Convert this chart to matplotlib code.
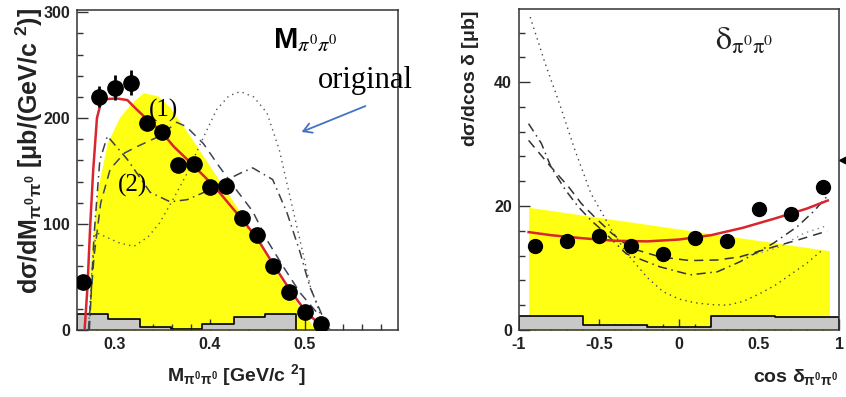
import matplotlib
matplotlib.use("Agg")
import matplotlib.pyplot as plt
from matplotlib.ticker import MultipleLocator

plt.rcParams['font.family'] = ['Liberation Sans', 'DejaVu Sans']
plt.rcParams['mathtext.fontset'] = 'custom'
plt.rcParams['mathtext.rm'] = 'Liberation Sans:bold'
plt.rcParams['mathtext.it'] = 'Liberation Sans:bold'
plt.rcParams['mathtext.bf'] = 'Liberation Sans:bold'
plt.rcParams['mathtext.sf'] = 'Liberation Sans:bold'

# ---- invariant mass spectrum M(pi0 pi0) ----
m_pts = [0.2667, 0.2833, 0.3, 0.3167, 0.3333, 0.35, 0.3667, 0.3833,
         0.4, 0.4167, 0.4333, 0.45, 0.4667, 0.4833, 0.5, 0.5167]
m_xsec = [45.7, 220, 228.7, 233.4, 195, 187, 155.5, 156.5,
          134.7, 135.6, 105.7, 90, 60.6, 35.6, 17.4, 5.7]
m_err = [4, 10, 12, 12, 6, 6, 5, 5, 5, 5, 4, 4, 3, 3, 2, 2]

# fit (red)
m_fit_x = [0.268, 0.271, 0.274, 0.277, 0.281, 0.285, 0.292, 0.302, 0.313, 0.323,
           0.336, 0.347, 0.362, 0.376, 0.394, 0.407, 0.421, 0.436, 0.45, 0.466,
           0.484, 0.502, 0.515, 0.525]
m_fit_y = [0, 40, 100, 150, 200, 214, 218, 218.5, 217, 208,
           197, 189, 173, 161, 145, 133, 118, 102, 86, 63,
           38, 16, 6, 0]

# phase space band (yellow)
m_band_x = [0.272, 0.274, 0.281, 0.292, 0.305, 0.318, 0.33, 0.345, 0.358, 0.379,
            0.393, 0.407, 0.421, 0.435, 0.449, 0.466, 0.484, 0.498, 0.508, 0.512]
m_band_y = [0, 66, 130, 177, 201, 215, 224, 221, 210, 183,
            164, 145, 126, 107, 86, 60, 35, 17, 4, 0]

# model curve (1), dashed
m_c1_x = [0.272, 0.278, 0.285, 0.295, 0.31, 0.323, 0.347, 0.365, 0.375, 0.393,
          0.41, 0.428, 0.445, 0.46, 0.477, 0.495, 0.513, 0.523, 0.527]
m_c1_y = [0, 70, 120, 152, 167, 173, 183, 196, 192, 176,
          154, 132, 112, 85, 60, 35, 16, 3, 0]

# model curve (2), dash-dot
m_c2_x = [0.273, 0.278, 0.284, 0.292, 0.313, 0.337, 0.358, 0.376, 0.394, 0.414,
          0.432, 0.445, 0.466, 0.481, 0.495, 0.505, 0.519, 0.525]
m_c2_y = [0, 90, 160, 183, 161, 130, 121, 123, 130, 140,
          148, 153, 142, 111, 73, 41, 12, 0]

# dotted curve
m_c3_x = [0.272, 0.276, 0.28, 0.29, 0.305, 0.32, 0.335, 0.347, 0.361, 0.376,
          0.389, 0.407, 0.42, 0.432, 0.446, 0.46, 0.473, 0.485, 0.496, 0.506,
          0.516, 0.526]
m_c3_y = [0, 60, 92, 88, 82, 79, 88, 101, 123, 148,
          174, 208, 221, 225, 220, 205, 170, 123, 80, 40,
          15, 0]

# systematic errors (grey histogram)
m_sys_edges = [0.26, 0.293, 0.326, 0.359, 0.392, 0.425, 0.458, 0.491]
m_sys = [14.8, 10, 2.5, 1, 5.4, 12, 14.8]

# ---- opening angle distribution cos(delta) ----
d_pts = [-0.9, -0.7, -0.5, -0.3, -0.1, 0.1, 0.3, 0.5, 0.7, 0.9]
d_xsec = [13.6, 14.4, 15.1, 13.6, 12.3, 14.9, 14.4, 19.5, 18.7, 23.0]

d_fit_x = [-0.94, -0.8, -0.6, -0.4, -0.2, 0, 0.2, 0.4, 0.6, 0.8, 0.93]
d_fit_y = [15.8, 15.3, 14.8, 14.4, 14.3, 14.6, 15.3, 16.5, 18.0, 19.6, 20.9]

d_band_x = [-0.94, 0.94]
d_band_y = [19.8, 12.8]

d_dot_x = [-0.93, -0.84, -0.74, -0.65, -0.55, -0.42, -0.33, -0.2, -0.1, 0,
           0.1, 0.2, 0.3, 0.4, 0.5, 0.6, 0.7, 0.8, 0.9]
d_dot_y = [50.5, 43.3, 36, 29, 22, 16.1, 12.5, 8.5, 6.2, 5,
           4.4, 4.1, 4.0, 4.6, 5.8, 7.2, 9, 10.8, 13]

d_dd_x = [-0.94, -0.86, -0.8, -0.71, -0.63, -0.55, -0.46, -0.33, -0.12, 0.07,
          0.24, 0.38, 0.59, 0.74, 0.84, 0.93]
d_dd_y = [33.3, 30.1, 26.3, 22.6, 19.9, 17.7, 15.6, 12.3, 10.2, 8.9,
          9.4, 11.0, 14.0, 16.7, 19.1, 21.7]

d_dash_x = [-0.94, -0.82, -0.69, -0.61, -0.53, -0.42, -0.3, -0.12, 0.07, 0.24,
            0.38, 0.59, 0.74, 0.93]
d_dash_y = [30.6, 26.9, 23.1, 20.4, 18.3, 15.6, 13.2, 11.8, 11.2, 11.3,
            11.8, 13.4, 14.5, 16.0]

d_light_x = [0.38, 0.5, 0.63, 0.78, 0.93]
d_light_y = [11.8, 12.4, 13.4, 15.6, 16.9]

d_sys_edges = [-1, -0.6, -0.2, 0.2, 0.6, 1]
d_sys = [2.3, 0.8, 0.43, 2.26, 2.05]

W, H = 846, 397
fig = plt.figure(figsize=(W / 100, H / 100), dpi=100)
ax1 = fig.add_axes([77 / W, 1 - 330 / H, 321 / W, 320 / H])
ax2 = fig.add_axes([519 / W, 1 - 330 / H, 320 / W, 321 / H])

red = '#d8262e'
yellow = '#ffff14'
grey_fill = '#c8c8c8'


def frame(ax):
    for s in ax.spines.values():
        s.set_color('#333333')
        s.set_linewidth(1.1)
    ax.tick_params(which='both', direction='in', top=False, right=False,
                   colors='#333333', labelcolor='#222222', labelsize=11.5,
                   width=1.0)
    ax.tick_params(which='major', length=8, pad=5)
    ax.tick_params(which='minor', length=4)
    for lab in ax.get_xticklabels() + ax.get_yticklabels():
        lab.set_fontweight('bold')


def syst_hist(ax, edges, vals):
    xs, ys = [], []
    for i, v in enumerate(vals):
        xs += [edges[i], edges[i + 1]]
        ys += [v, v]
    ax.fill_between(xs, 0, ys, color=grey_fill, zorder=2, linewidth=0)
    ax.plot([xs[0]] + xs + [xs[-1]], [0] + ys + [0], color='black', lw=1.2, zorder=2.5)


# left panel
ax = ax1
ax.fill_between(m_band_x, 0, m_band_y, color=yellow, linewidth=0, zorder=1)
syst_hist(ax, m_sys_edges, m_sys)
ax.plot(m_c3_x, m_c3_y, color='#555555', lw=1.0, ls=(0, (1, 3)), zorder=3)
ax.plot(m_c2_x, m_c2_y, color='#3a3f48', lw=1.1, ls=(0, (6, 3, 1, 3)), zorder=3)
ax.plot(m_c1_x, m_c1_y, color='#3c4656', lw=1.1, ls=(0, (6, 4)), zorder=3)
ax.plot(m_fit_x, m_fit_y, color=red, lw=1.8, zorder=4)
ax.vlines(m_pts, [y - e for y, e in zip(m_xsec, m_err)],
          [y + e for y, e in zip(m_xsec, m_err)], color='black', lw=2, zorder=5)
ax.plot(m_pts, m_xsec, 'o', color='black', ms=11, zorder=6)
ax.set_xlim(0.26, 0.598)
ax.set_ylim(0, 302)
ax.set_xticks([0.3, 0.4, 0.5])
ax.set_xticklabels(['0.3', '0.4', '0.5'])
ax.set_yticks([0, 100, 200, 300])
ax.set_yticklabels(['0', '100', '200', '300'])
ax.xaxis.set_minor_locator(MultipleLocator(0.02))
ax.yaxis.set_minor_locator(MultipleLocator(20))
frame(ax)

# right panel
ax = ax2
ax.fill_between(d_band_x, 0, d_band_y, color=yellow, linewidth=0, zorder=1)
syst_hist(ax, d_sys_edges, d_sys)
ax.plot(d_dot_x, d_dot_y, color='#444444', lw=1.0, ls=(0, (1, 3)), zorder=3)
ax.plot(d_light_x, d_light_y, color='#888888', lw=1.0, ls=(0, (1, 3)), zorder=3)
ax.plot(d_dd_x, d_dd_y, color='#333333', lw=1.1, ls=(0, (6, 3, 1, 3)), zorder=3)
ax.plot(d_dash_x, d_dash_y, color='#333333', lw=1.1, ls=(0, (6, 4)), zorder=3)
ax.plot(d_fit_x, d_fit_y, color=red, lw=1.8, zorder=4)
ax.plot(d_pts, d_xsec, 'o', color='black', ms=10, zorder=6)
ax.set_xlim(-1, 1)
ax.set_ylim(0, 51.8)
ax.set_xticks([-1, -0.5, 0, 0.5, 1])
ax.set_xticklabels(['-1', '-0.5', '0', '0.5', '1'])
ax.set_yticks([0, 20, 40])
ax.set_yticklabels(['0', '20', '40'])
ax.xaxis.set_minor_locator(MultipleLocator(0.1))
ax.yaxis.set_minor_locator(MultipleLocator(4))
frame(ax)
# tip of an arrow coming in from the right edge
ax.plot([1.012, 1.05], [0.531, 0.531], color='black', lw=1.2,
        transform=ax.transAxes, clip_on=False)
ax.plot([1.012], [0.531], marker='<', color='black', ms=6,
        transform=ax.transAxes, clip_on=False)


def ftext(x, y, s, **kw):
    fig.text(x / W, 1 - y / H, s, **kw)


# axis titles
ftext(29, 8, r'd$\sigma$/dM$_{\pi^0\pi^0}$ [$\mu$b/(GeV/c $^{2}$)]', rotation=90,
      ha='center', va='top', fontsize=18, fontweight='bold', color='#222222')
ftext(236, 375, r'M$_{\pi^0\pi^0}$ [GeV/c $^{2}$]', ha='center', va='center',
      fontsize=14, fontweight='bold', color='#222222')
ftext(470, 10, r'd$\sigma$/dcos $\delta$ [$\mu$b]', rotation=90,
      ha='center', va='top', fontsize=14, fontweight='bold', color='#222222')
ftext(838, 377, r'cos $\delta_{\pi^0\pi^0}$', ha='right', va='center',
      fontsize=14, fontweight='bold', color='#222222')

# panel labels
ftext(273, 48, r'M$_{\pi^0\pi^0}$', ha='left', va='baseline', fontsize=21,
      fontweight='bold', color='black', math_fontfamily='stix')
ftext(715, 50, r'$\mathrm{\delta_{\pi^0\pi^0}}$', ha='left', va='baseline',
      fontsize=23, color='#222222', math_fontfamily='stix')

# annotations
ftext(318, 88, 'original', ha='left', va='baseline', fontsize=22,
      family='Liberation Serif', color='black')
ftext(163, 110, '(1)', ha='center', va='center', fontsize=18,
      family='Liberation Serif', color='black')
ftext(132, 185, '(2)', ha='center', va='center', fontsize=18,
      family='Liberation Serif', color='black')
fig.add_artist(matplotlib.patches.FancyArrowPatch(
    (368 / W, 1 - 105 / H), (299 / W, 1 - 133 / H), transform=fig.transFigure,
    arrowstyle='->,head_length=6,head_width=3.5', color='#4472c4', lw=1.3))

fig.savefig('out.png', dpi=100)
